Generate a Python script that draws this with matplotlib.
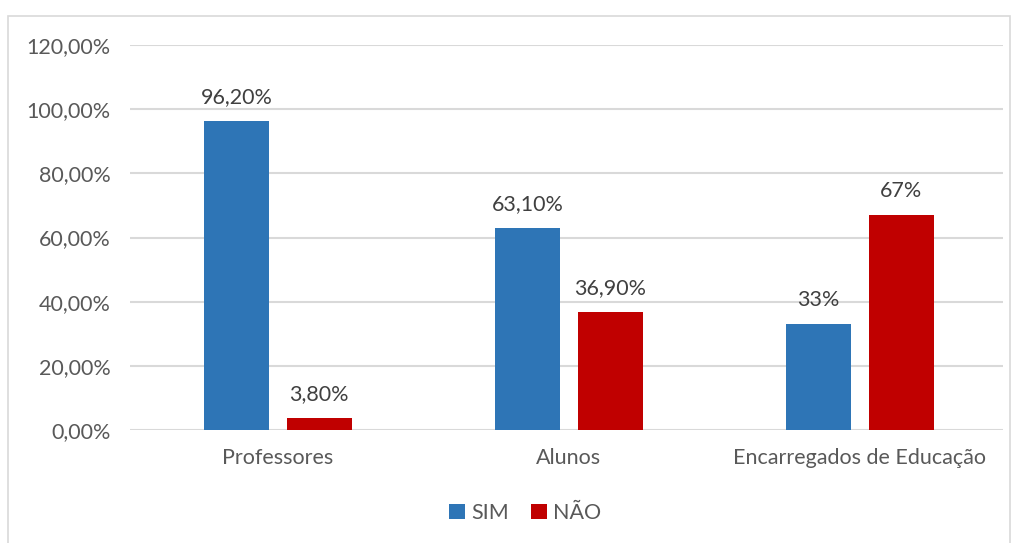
import numpy as np
import matplotlib.pyplot as plt
from matplotlib.patches import Rectangle

categories = ['Professores', 'Alunos', 'Encarregados de Educação']
sim = [96.2, 63.1, 33.0]
nao = [3.8, 36.9, 67.0]
sim_labels = ['96,20%', '63,10%', '33%']
nao_labels = ['3,80%', '36,90%', '67%']
yticks = [0, 20, 40, 60, 80, 100, 120]
ytick_labels = ['0,00%', '20,00%', '40,00%', '60,00%', '80,00%', '100,00%', '120,00%']

blue = '#2E75B6'
red = '#C00000'
grey_txt = '#595959'

plt.rcParams['font.family'] = ['Lato', 'DejaVu Sans']

fig = plt.figure(figsize=(10.19, 5.43), dpi=100)
ax = fig.add_axes([130/1019, 1-430/543, (1003-130)/1019, (430-45)/543])

# chart border
fig.patches.append(Rectangle((8/1019, -0.01), (1010-8)/1019, 1.01-16/543,
                             transform=fig.transFigure, fill=False,
                             edgecolor='#D9D9D9', linewidth=1.2))

x = np.arange(len(categories))
w = 0.223
off = 0.142
b1 = ax.bar(x - off, sim, w, color=blue, label='SIM', zorder=3)
b2 = ax.bar(x + off, nao, w, color=red, label='NÃO', zorder=3)

for bars, labs in ((b1, sim_labels), (b2, nao_labels)):
    for rect, lab in zip(bars, labs):
        ax.text(rect.get_x() + rect.get_width()/2, rect.get_height() + 4.3, lab,
                ha='center', va='bottom', fontsize=15.5, color='#404040')

ax.set_xlim(-0.508, 2.492)
ax.set_ylim(0, 120)
ax.set_yticks(yticks)
ax.set_yticklabels(ytick_labels)
ax.set_xticks(x)
ax.set_xticklabels(categories)
ax.tick_params(axis='both', length=0, labelsize=15.5, labelcolor=grey_txt)
ax.tick_params(axis='y', pad=14)
ax.tick_params(axis='x', pad=13)
ax.yaxis.grid(True, color='#D9D9D9', linewidth=1.5, zorder=0)
for s in ax.spines.values():
    s.set_visible(False)

fig.legend(loc='center', bbox_to_anchor=(525/1019, 1-513/543), ncol=2,
           frameon=False, fontsize=15.5, labelcolor=grey_txt,
           handlelength=0.75, handleheight=0.75, handletextpad=0.3,
           columnspacing=1.0)

fig.savefig('out.png', dpi=100)
